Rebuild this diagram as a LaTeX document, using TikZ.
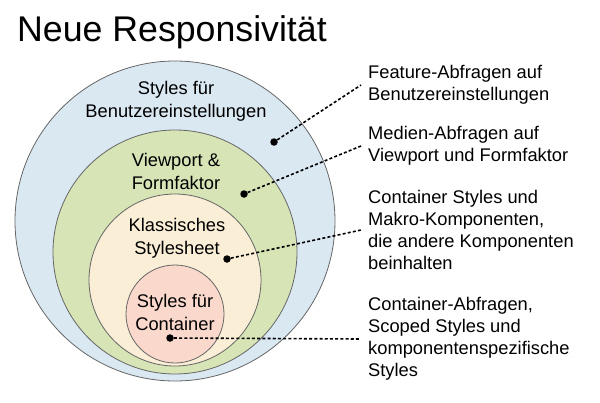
\documentclass[tikz,border=0pt]{standalone}
\usepackage{fontspec}
\setmainfont{Liberation Sans}
\definecolor{outerblue}{HTML}{DAE8F2}
\definecolor{viewgreen}{HTML}{D6E4B6}
\definecolor{sheetcream}{HTML}{FAEED6}
\definecolor{contpink}{HTML}{FAD9CC}
\begin{document}
\begin{tikzpicture}[x=1pt,y=-1pt,
    ring/.style={draw=black!60,line width=0.8pt},
    lbl/.style={align=center,font=\fontsize{18.3}{23}\selectfont},
    note/.style={anchor=west,align=left,inner xsep=7pt,font=\fontsize{18.3}{22}\selectfont},
    pin/.style={circle,fill=black,inner sep=0pt,minimum size=7.5pt},
    lead/.style={line width=1.6pt,dash pattern=on 3pt off 2.2pt}]
    \useasboundingbox (0,0) rectangle (600,402);
    \node[anchor=base west,inner sep=0pt,font=\fontsize{35.7}{42}\selectfont] (title) at (17,41) {Neue Responsivität};
    % nested rings
    \filldraw[ring,fill=outerblue] (175,221) circle (160);
    \filldraw[ring,fill=viewgreen] (175,252) circle (122);
    \filldraw[ring,fill=sheetcream] (175,280) circle (86);
    \filldraw[ring,fill=contpink] (175,314) circle (49);
    \node[lbl] (user) at (176,101) {Styles für\\Benutzereinstellungen};
    \node[lbl] (view) at (176,171) {Viewport \&\\Formfaktor};
    \node[lbl] (sheet) at (177,238) {Klassisches\\Stylesheet};
    \node[lbl] (cont) at (175,312) {Styles für\\Container};
    % dots
    \node[pin] (p1) at (274,142) {};
    \node[pin] (p2) at (244,194) {};
    \node[pin] (p3) at (227,259) {};
    \node[pin] (p4) at (170,338) {};
    % notes
    \node[note] (n1) at (361,85) {Feature-Abfragen auf\\Benutzereinstellungen};
    \node[note] (n2) at (361,146) {Medien-Abfragen auf\\Viewport und Formfaktor};
    \node[note] (n3) at (361,230) {Container Styles und\\Makro-Komponenten,\\die andere Komponenten\\beinhalten};
    \node[note] (n4) at (361,339) {Container-Abfragen,\\Scoped Styles und\\komponentenspezifische\\Styles};
    \draw[lead] (p1) -- (n1.west);
    \draw[lead] (p2) -- (n2.west);
    \draw[lead] (p3) -- (n3.west);
    \draw[lead] (p4) -- (n4.west);
\end{tikzpicture}
\end{document}
